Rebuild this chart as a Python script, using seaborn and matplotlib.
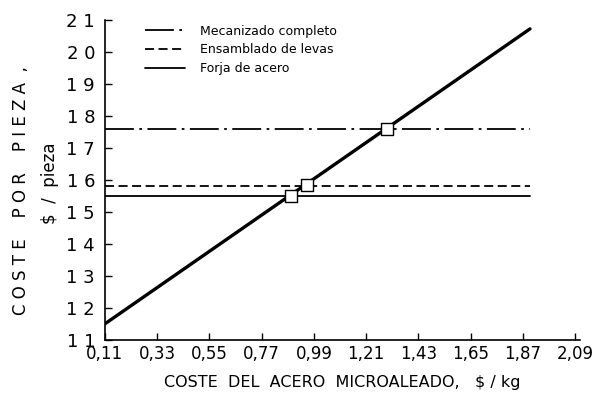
"""Coste por pieza frente al coste del acero microaleado."""

import matplotlib

matplotlib.use("Agg")
import matplotlib.pyplot as plt
import pandas as pd
import seaborn as sns

# Data
acero_x = [0.11, 1.90]  # $/kg
forja_microaleado_y = [11.5, 20.72]  # $/pieza, line through the cost of steel

procesos = ["Mecanizado completo", "Ensamblado de levas", "Forja de acero"]
coste_proceso = [17.6, 15.8, 15.5]
estilos = [(0, (16, 3, 1.5, 3)), (0, (5, 2.5)), "-"]

cruce_x = [0.895, 0.96, 1.30]
cruce_y = [15.5, 15.84, 17.6]

x_ticks = [0.11, 0.33, 0.55, 0.77, 0.99, 1.21, 1.43, 1.65, 1.87, 2.09]
x_labels = ["0,11", "0,33", "0,55", "0,77", "0,99", "1,21", "1,43", "1,65", "1,87", "2,09"]
y_ticks = list(range(11, 22))
y_labels = ["1 1", "1 2", "1 3", "1 4", "1 5", "1 6", "1 7", "1 8", "1 9", "2 0", "2 1"]

sns.set_style("white")
plt.rcParams["font.family"] = ["DejaVu Sans"]
plt.rcParams["text.color"] = "black"
plt.rcParams["xtick.color"] = "black"
plt.rcParams["ytick.color"] = "black"
plt.rcParams["axes.labelcolor"] = "black"

fig = plt.figure(figsize=(6.13, 3.98), dpi=100)
ax = fig.add_axes([0.171, 0.146, 0.775, 0.804])

# Horizontal lines for each process
handles = []
for proceso, coste, estilo in zip(procesos, coste_proceso, estilos):
    df = pd.DataFrame({"x": acero_x, "y": [coste, coste]})
    sns.lineplot(data=df, x="x", y="y", ax=ax, color="black", linewidth=1.3)
    line = ax.lines[-1]
    line.set_linestyle(estilo)
    line.set_label(proceso)
    handles.append(line)

# Diagonal cost line
diag = pd.DataFrame({"x": acero_x, "y": forja_microaleado_y})
sns.lineplot(data=diag, x="x", y="y", ax=ax, color="black", linewidth=2.4)

# Crossing points
cruces = pd.DataFrame({"x": cruce_x, "y": cruce_y})
sns.scatterplot(
    data=cruces,
    x="x",
    y="y",
    ax=ax,
    marker="s",
    s=85,
    facecolor="white",
    edgecolor="black",
    linewidth=1.0,
    zorder=5,
)

ax.set_xlim(0.11, 2.11)
ax.set_ylim(11, 21)
ax.set_xticks(x_ticks)
ax.set_xticklabels(x_labels, fontsize=12)
ax.set_yticks(y_ticks)
ax.set_yticklabels(y_labels, fontsize=13)
ax.tick_params(bottom=True, left=True, direction="in", length=5, width=1,
               color="black", labelcolor="black", pad=4)
ax.tick_params(axis="y", pad=7)

for side in ["top", "right"]:
    ax.spines[side].set_visible(False)
for side in ["left", "bottom"]:
    ax.spines[side].set_color("black")
    ax.spines[side].set_linewidth(1.2)

ax.set_xlabel("COSTE  DEL  ACERO  MICROALEADO,   $ / kg", fontsize=11.5,
              labelpad=8, color="black")
ax.set_ylabel("")
fig.text(0.035, 0.52, "C O S T E    P O R    P I E Z A  ,", rotation=90,
         fontsize=12, ha="center", va="center", color="black")
fig.text(0.082, 0.54, "$  /  pieza", rotation=90, fontsize=12,
         ha="center", va="center", color="black")

leg = ax.legend(
    handles=handles,
    loc="upper left",
    bbox_to_anchor=(0.06, 1.02),
    frameon=False,
    fontsize=9,
    handlelength=3.2,
    handletextpad=1.2,
    labelspacing=0.45,
)
for txt in leg.get_texts():
    txt.set_color("black")

plt.savefig("out.png", dpi=100)
plt.close()
